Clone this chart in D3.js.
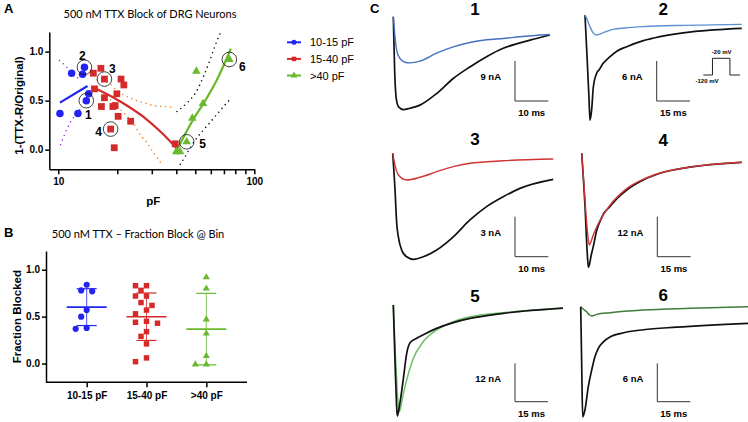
<!DOCTYPE html>
<html>
<head>
<meta charset="utf-8">
<script src="https://cdn.jsdelivr.net/npm/d3@7"></script>
<style>
body { margin: 0; background: #fff; }
text { font-family: "Liberation Sans", Arial, sans-serif; fill: #000; }
.title { font-family: Lato, "Open Sans", sans-serif; font-size: 11px; }
.tick text { font-weight: bold; font-size: 10px; font-family: "Liberation Sans", Arial, sans-serif; }
.axis path, .axis line { stroke: #000; stroke-width: 1.5; }
.axis-label { font-weight: bold; font-size: 11.5px; }
.letter { font-weight: bold; font-size: 13px; }
.legend-text { font-size: 11px; }
.num { font-weight: bold; font-size: 12px; }
.trace-num { font-weight: bold; font-size: 17px; }
.bar-text { font-weight: bold; font-size: 9.5px; }
.proto-text { font-weight: bold; font-size: 6px; }
</style>
</head>
<body>
<script>
// ---------- Panel A: fraction blocked vs capacitance (pF, fraction) ----------
var smallCells = [[10.2, 0.37], [11.7, 0.78], [12.6, 0.37], [13.3, 0.77], [13.6, 0.84], [13.9, 0.50], [14.3, 0.57]];
var midCells = [[15.1, 0.78], [15.3, 0.62], [16.5, 0.83], [16.6, 0.44], [17.2, 0.72], [17.2, 0.53], [18.5, 0.21],
    [19.0, 0.44], [19.3, 0.02], [19.5, 0.45], [19.9, 0.57], [20.2, 0.34], [20.9, 0.72], [21.6, 0.66], [23.4, 0.29], [39.5, 0.06]];
var largeCells = [[40.0, -0.02], [41.8, -0.02], [45.2, 0.08], [48.3, 0.32], [50.6, 0.80], [54.7, 0.47], [74.6, 0.92]];

// fitted lines
var smallFit = [[10.2, 0.48], [14.1, 0.65]];
var midFit = [[15.3, 0.63], [18.8, 0.54], [22.8, 0.44], [27.8, 0.32], [33.8, 0.17], [40.3, 0.01]];
var largeFit = [[40.3, 0.0], [49.9, 0.34], [55.0, 0.47], [64.4, 0.71], [75.9, 1.03]];

// confidence bands (dotted)
var smallUpper = [[10.15, 0.91], [10.7, 0.87], [11.3, 0.82], [12.0, 0.77], [12.9, 0.71]];
var smallLower = [[10.27, 0.05], [10.6, 0.12], [10.9, 0.18], [11.2, 0.23], [11.6, 0.29], [12.1, 0.34], [12.9, 0.41]];
var midUpper = [[15.8, 0.71], [18.1, 0.68], [19.5, 0.62], [21.6, 0.56], [24.3, 0.51], [27.2, 0.48], [30.6, 0.45], [34.4, 0.44], [38.7, 0.43]];
var midLower = [[17.0, 0.58], [18.5, 0.51], [20.3, 0.43], [22.4, 0.34], [24.3, 0.26], [26.2, 0.15], [28.4, 0.07], [30.6, -0.03], [33.8, -0.15]];
var largeUpper = [[40.3, 0.39], [45.3, 0.475], [47.1, 0.51], [50.9, 0.60], [55.0, 0.745], [59.6, 0.92], [63.1, 1.06], [67.5, 1.2]];
var largeLower = [[41.9, -0.15], [44.4, -0.07], [47.1, 0.02], [50.9, 0.12], [55.0, 0.2], [59.6, 0.28], [67.0, 0.4], [74.8, 0.51]];

// circled example cells: label, point, label offset
var examples = [
    {n: "1", pt: [13.9, 0.50], dx: 2, dy: 14},
    {n: "2", pt: [13.6, 0.84], dx: -2, dy: -11},
    {n: "3", pt: [17.2, 0.72], dx: 8, dy: -10},
    {n: "4", pt: [18.5, 0.21], dx: -12, dy: 3},
    {n: "5", pt: [45.2, 0.08], dx: 16, dy: 2},
    {n: "6", pt: [74.6, 0.92], dx: 13, dy: 8}
];

var groups = ["10-15 pF", "15-40 pF", ">40 pF"];
var groupColors = ["#2323f2", "#d42a2a", "#6ab82e"];
var xTicksA = [10, 20, 30, 40, 50, 60, 70, 80, 90, 100];

// ---------- Panel B: fraction blocked per bin ----------
var blockSmall = [0.84, 0.78, 0.77, 0.57, 0.50, 0.38, 0.37];
var blockMid = [0.83, 0.83, 0.78, 0.72, 0.72, 0.65, 0.62, 0.57, 0.53, 0.45, 0.44, 0.43, 0.34, 0.29, 0.21, 0.06, 0.02];
var blockLarge = [0.92, 0.80, 0.47, 0.32, 0.08, -0.01, -0.01];

// ---------- Panel C: current traces [ms, nA] ----------
var trace1Control = [[0, 0], [0.4, -12], [0.9, -18.5], [1.6, -20.3], [3, -20.9], [5, -20.6], [8, -19.9], [13, -17.3], [18, -13.9], [23, -11.3], [28, -9.0], [33, -7.1], [38, -5.9], [43, -4.9], [47, -4.1]];
var trace1TTX = [[0, 0], [1, -7.5], [2, -9.4], [3.3, -10.2], [5, -10.4], [8, -10.0], [13, -8.2], [18, -6.8], [23, -5.8], [28, -5.2], [33, -4.9], [38, -4.5], [47, -4.0]];
var trace2Control = [[0, 0], [1.0, -6.8], [1.8, -12.5], [2.25, -15.8], [3.0, -14.2], [3.75, -10.8], [5.3, -8.7], [6.4, -8.2], [8.2, -7.25], [11.3, -6.25], [14.5, -5.4], [18.8, -4.75], [26.3, -3.85], [33.8, -3.25], [48.8, -2.5], [70.6, -2.0]];
var trace2TTX = [[0, 0], [1.0, -0.7], [2.25, -1.75], [3.5, -2.6], [5.25, -3.0], [8.2, -2.65], [12.7, -2.15], [18, -1.95], [26.3, -1.75], [45, -1.55], [70.6, -1.4]];
var trace3Control = [[0, 0], [0.7, -2.75], [1.2, -5.25], [1.7, -6.26], [2.7, -7.26], [4.2, -7.76], [6.2, -7.95], [9.2, -7.76], [13.2, -7.25], [18.2, -6.26], [23.2, -5.0], [28.2, -4.0], [33.2, -3.26], [38.2, -2.63], [48.2, -1.95]];
var trace3TTX = [[0, 0], [0.8, -1.0], [1.7, -1.63], [4.2, -2.0], [8.2, -1.8], [13.2, -1.38], [18.2, -1.0], [23.2, -0.75], [33.2, -0.56], [48.2, -0.43]];
var trace4Control = [[0, 0], [1.5, -16], [2.5, -30], [3.0, -34.2], [3.6, -33], [4.3, -30.5], [5.2, -28], [6.8, -23], [8.2, -20.5], [10, -18], [12.7, -16], [16, -13.5], [20.3, -11], [27.7, -8], [35.3, -6], [50.3, -4], [72.1, -2.7]];
var trace4TTX = [[0, 0], [1.2, -11], [2.25, -21], [2.9, -25.5], [3.4, -27.5], [4.2, -26.5], [5.2, -24.5], [6.5, -22.5], [8.2, -20.2], [12.7, -15.6], [20.3, -10.6], [27.7, -7.8], [35.3, -5.9], [50.3, -4.0], [72.1, -2.7]];
var trace5Control = [[0, 0], [0.8, -18], [1.4, -30], [1.8, -34.7], [2.3, -33.5], [3.0, -30.7], [4.5, -23.4], [6.1, -15.1], [7.6, -11.8], [10.6, -10.4], [15, -8.8], [19.7, -7.3], [27.3, -5.5], [34.9, -4.2], [50, -2.6], [77.1, -1.0]];
var trace5TTX = [[0, 0], [1.0, -16], [2.0, -29], [2.7, -33.3], [3.5, -31.5], [4.5, -28], [6.1, -23.4], [9.1, -16.7], [13.6, -11.5], [19.7, -7.8], [27.3, -5.2], [34.9, -3.7], [50, -2.4], [77.1, -1.0]];
var trace6Control = [[0, 0], [0.45, -9], [0.9, -17.2], [1.95, -16.1], [3.45, -12.5], [5.0, -9.9], [6.5, -7.8], [8.0, -6.5], [10.3, -5.5], [13.5, -4.7], [17.9, -4.2], [28.5, -3.6], [43.6, -3.2], [76.2, -2.6]];
var trace6TTX = [[0, 0], [1.2, -0.4], [2.7, -0.8], [4.0, -1.3], [5.0, -1.45], [7.3, -1.2], [13.3, -0.94], [28.5, -0.52], [50, -0.25], [76.2, 0]];

// voltage protocol inset [ms, mV]
var protocol = [[0, -120], [10, -120], [10, -20], [29, -20], [29, -120], [40, -120]];

var W = 748, H = 422;
var svg = d3.select("body").append("svg")
    .attr("width", W)
    .attr("height", H);

// ================= Panel A =================
var xA = d3.scaleLog().domain([9, 100]).range([49.3, 254.3]);
var yA = d3.scaleLinear().domain([-0.2, 1.2]).range([169.3, 32]);

var gA = svg.append("g");

gA.append("text").attr("class", "letter").attr("x", 4).attr("y", 13).text("A");
gA.append("text").attr("class", "title").attr("x", 150).attr("y", 18)
    .attr("text-anchor", "middle").text("500 nM TTX Block of DRG Neurons");

gA.append("g").attr("class", "axis")
    .attr("transform", "translate(" + xA.range()[0] + ",0)")
    .call(d3.axisLeft(yA).tickValues([0, 0.5, 1]).tickFormat(d3.format(".1f")).tickSize(4).tickSizeOuter(0))
    .call(function(g) { g.selectAll(".tick text").attr("x", -6); });

gA.append("g").attr("class", "axis")
    .attr("transform", "translate(0," + yA.range()[0] + ")")
    .call(d3.axisBottom(xA).tickValues(xTicksA)
        .tickFormat(function(d) { return (d === 10 || d === 100) ? d : ""; })
        .tickSize(5).tickSizeOuter(0))
    .call(function(g) { g.selectAll(".tick text").attr("y", 9); });

gA.append("text").attr("class", "axis-label")
    .attr("x", xA(Math.sqrt(10 * 100)) - 3).attr("y", 205)
    .attr("text-anchor", "middle").text("pF");

gA.append("text").attr("class", "axis-label")
    .attr("transform", "rotate(-90)")
    .attr("x", -(yA(0.45)))
    .attr("y", 23)
    .attr("text-anchor", "middle")
    .text("1-(TTX-R/Original)");

var lineA = d3.line()
    .x(function(d) { return xA(d[0]); })
    .y(function(d) { return yA(d[1]); })
    .curve(d3.curveMonotoneX);

var bands = [
    {data: smallUpper, color: "#9b34d8"}, {data: smallLower, color: "#9b34d8"},
    {data: midUpper, color: "#e8842c"}, {data: midLower, color: "#e8842c"},
    {data: largeUpper, color: "#111"}, {data: largeLower, color: "#111"}
];
gA.selectAll(".band").data(bands).enter().append("path")
    .attr("class", "band")
    .attr("d", function(d) { return lineA(d.data); })
    .attr("fill", "none")
    .attr("stroke", function(d) { return d.color; })
    .attr("stroke-width", 1.6)
    .attr("stroke-linecap", "round")
    .attr("stroke-dasharray", "0,5");

var fits = [smallFit, midFit, largeFit];
gA.selectAll(".fit").data(fits).enter().append("path")
    .attr("class", "fit")
    .attr("d", lineA)
    .attr("fill", "none")
    .attr("stroke", function(d, i) { return groupColors[i]; })
    .attr("stroke-width", 2.2);

var symbolsA = [d3.symbolCircle, d3.symbolSquare, d3.symbolTriangle];
var sizesA = [44, 46, 32];
[smallCells, midCells, largeCells].forEach(function(cells, i) {
    gA.append("g").selectAll("path").data(cells).enter().append("path")
        .attr("d", d3.symbol(symbolsA[i], sizesA[i]))
        .attr("transform", function(d) { return "translate(" + xA(d[0]) + "," + yA(d[1]) + ")"; })
        .attr("fill", groupColors[i]);
});

var ex = gA.selectAll(".example").data(examples).enter().append("g")
    .attr("class", "example")
    .attr("transform", function(d) { return "translate(" + xA(d.pt[0]) + "," + yA(d.pt[1]) + ")"; });
ex.append("circle").attr("r", 7.3).attr("fill", "none").attr("stroke", "#111").attr("stroke-width", 0.8);
ex.append("text").attr("class", "num")
    .attr("x", function(d) { return d.dx; })
    .attr("y", function(d) { return d.dy; })
    .attr("text-anchor", "middle")
    .attr("dominant-baseline", "central")
    .text(function(d) { return d.n; });

// legend
var legend = gA.selectAll(".legend").data(groups).enter().append("g")
    .attr("class", "legend")
    .attr("transform", function(d, i) { return "translate(287," + (42.3 + i * 16.6) + ")"; });
legend.append("line").attr("x1", 0).attr("x2", 14)
    .attr("stroke", function(d, i) { return groupColors[i]; }).attr("stroke-width", 2);
legend.append("path")
    .attr("d", function(d, i) { return d3.symbol(symbolsA[i], 20)(); })
    .attr("transform", "translate(7,0)")
    .attr("fill", function(d, i) { return groupColors[i]; });
legend.append("text").attr("class", "legend-text")
    .attr("x", 23).attr("y", 4).text(function(d) { return d; });

// ================= Panel B =================
var xB = d3.scalePoint().domain(groups).range([46, 247]).padding(0.68);
var yB = d3.scaleLinear().domain([-0.2, 1.2]).range([382.3, 251]);
var gB = svg.append("g");

gB.append("text").attr("class", "letter").attr("x", 4).attr("y", 237).text("B");
gB.append("text").attr("class", "title").attr("x", 138).attr("y", 238)
    .attr("text-anchor", "middle").text("500 nM TTX \u2013 Fraction Block @ Bin");

gB.append("g").attr("class", "axis")
    .attr("transform", "translate(46,0)")
    .call(d3.axisLeft(yB).tickValues([0, 0.5, 1]).tickFormat(d3.format(".1f")).tickSize(4).tickSizeOuter(0))
    .call(function(g) { g.selectAll(".tick text").attr("x", -6); });

gB.append("g").attr("class", "axis")
    .attr("transform", "translate(0," + yB.range()[0] + ")")
    .call(d3.axisBottom(xB).tickSize(5).tickSizeOuter(0))
    .call(function(g) {
        g.select(".domain").attr("d", "M46,0H247");
        g.selectAll(".tick text").attr("y", 10);
    });

gB.append("text").attr("class", "axis-label")
    .attr("transform", "rotate(-90)")
    .attr("x", -yB(0.5)).attr("y", 21)
    .attr("text-anchor", "middle")
    .text("Fraction Blocked");

// simple swarm layout: place each value at the first free slot around the centre
function swarm(values, step, minDist) {
    var placed = [];
    values.slice().sort(function(a, b) { return b - a; }).forEach(function(v) {
        var py = yB(v);
        for (var k = 0; k < 20; k++) {
            var off = (k === 0) ? 0 : (k % 2 ? -1 : 1) * Math.ceil(k / 2) * step;
            var clash = placed.some(function(p) {
                var dx = p.off - off, dy = p.py - py;
                return dx * dx + dy * dy < minDist * minDist;
            });
            if (!clash) { placed.push({v: v, py: py, off: off}); break; }
        }
    });
    return placed;
}

var bins = [blockSmall, blockMid, blockLarge];
var sizesB = [30, 30, 22];
bins.forEach(function(vals, i) {
    var cx = xB(groups[i]);
    var m = d3.mean(vals), sd = d3.deviation(vals);
    var g = gB.append("g").attr("stroke", groupColors[i]).attr("stroke-width", 1.2);
    g.append("line").attr("x1", cx).attr("x2", cx).attr("y1", yB(m + sd)).attr("y2", yB(m - sd)).attr("stroke-width", 0.8);
    g.append("line").attr("x1", cx - 10).attr("x2", cx + 10).attr("y1", yB(m + sd)).attr("y2", yB(m + sd));
    g.append("line").attr("x1", cx - 10).attr("x2", cx + 10).attr("y1", yB(m - sd)).attr("y2", yB(m - sd));
    g.append("line").attr("x1", cx - 20).attr("x2", cx + 20).attr("y1", yB(m)).attr("y2", yB(m)).attr("stroke-width", 1.6);
    gB.append("g").selectAll("path").data(swarm(vals, 5.5, 7.2)).enter().append("path")
        .attr("d", d3.symbol(symbolsA[i], sizesB[i]))
        .attr("transform", function(d) { return "translate(" + (cx + d.off) + "," + d.py + ")"; })
        .attr("fill", groupColors[i]);
});

// ================= Panel C =================
svg.append("text").attr("class", "letter").attr("x", 370).attr("y", 13).text("C");

var tracePanels = [
    {n: "1", x0: 393.3, y0: 16.7, ms: 10, nA: 9, pxMs: 33.3, pxNA: 40, bar: [515, 61], numPos: [475, 15], color: "#4670c0", control: trace1Control, ttx: trace1TTX, ttxOnTop: true},
    {n: "2", x0: 585, y0: 15, ms: 15, nA: 6, pxMs: 33.3, pxNA: 40, bar: [656.7, 61], numPos: [663.3, 15], color: "#5b8fd4", control: trace2Control, ttx: trace2TTX, ttxOnTop: true},
    {n: "3", x0: 392.7, y0: 153.3, ms: 10, nA: 3, pxMs: 33.3, pxNA: 40, bar: [515, 216.7], numPos: [475, 145], color: "#d03434", control: trace3Control, ttx: trace3TTX, ttxOnTop: true},
    {n: "4", x0: 581.7, y0: 153.3, ms: 15, nA: 12, pxMs: 33.3, pxNA: 40, bar: [657.3, 216.7], numPos: [663.3, 146], color: "#d03434", control: trace4Control, ttx: trace4TTX, ttxOnTop: true},
    {n: "5", x0: 393.3, y0: 305, ms: 15, nA: 12, pxMs: 33, pxNA: 38.4, bar: [515, 363.3], numPos: [475, 302], color: "#6dbf68", control: trace5Control, ttx: trace5TTX, ttxOnTop: false},
    {n: "6", x0: 580.7, y0: 306.7, ms: 15, nA: 6, pxMs: 33, pxNA: 38.4, bar: [657.3, 363.3], numPos: [663.3, 301], color: "#3f7b3a", control: trace6Control, ttx: trace6TTX, ttxOnTop: false}
];

tracePanels.forEach(function(p) {
    var x = d3.scaleLinear().domain([0, p.ms]).range([p.x0, p.x0 + p.pxMs]);
    var y = d3.scaleLinear().domain([0, -p.nA]).range([p.y0, p.y0 + p.pxNA]);
    var line = d3.line()
        .x(function(d) { return x(d[0]); })
        .y(function(d) { return y(d[1]); })
        .curve(d3.curveMonotoneX);
    var g = svg.append("g");

    g.append("text").attr("class", "trace-num")
        .attr("x", p.numPos[0]).attr("y", p.numPos[1])
        .attr("text-anchor", "middle").text(p.n);

    var order = p.ttxOnTop ? [["control", "#111", 1.7], ["ttx", p.color, 1.4]] : [["ttx", p.color, 1.5], ["control", "#111", 1.7]];
    order.forEach(function(o) {
        g.append("path")
            .attr("d", line(p[o[0]]))
            .attr("fill", "none")
            .attr("stroke", o[1])
            .attr("stroke-width", o[2])
            .attr("stroke-linejoin", "round");
    });

    // scale bar
    var bw = x(p.ms) - x(0), bh = y(-p.nA) - y(0);
    var bx = p.bar[0], by = p.bar[1];
    g.append("path")
        .attr("d", "M" + bx + "," + by + "V" + (by + bh) + "H" + (bx + bw))
        .attr("fill", "none").attr("stroke", "#333").attr("stroke-width", 1);
    g.append("text").attr("class", "bar-text")
        .attr("x", bx - 14).attr("y", by + bh / 2 - 1)
        .attr("text-anchor", "end").text(p.nA + " nA");
    g.append("text").attr("class", "bar-text")
        .attr("x", bx + bw / 2).attr("y", by + bh + 15)
        .attr("text-anchor", "middle").text(p.ms + " ms");
});

// voltage protocol inset
var xP = d3.scaleLinear().domain([0, 40]).range([703.3, 740]);
var yP = d3.scaleLinear().domain([-120, -20]).range([75, 58.3]);
svg.append("path")
    .attr("d", d3.line().x(function(d) { return xP(d[0]); }).y(function(d) { return yP(d[1]); })(protocol))
    .attr("fill", "none").attr("stroke", "#222").attr("stroke-width", 1);
svg.append("text").attr("class", "proto-text").attr("x", xP(20)).attr("y", yP(-20) - 4)
    .attr("text-anchor", "middle").text("-20 mV");
svg.append("text").attr("class", "proto-text").attr("x", xP(4)).attr("y", yP(-120) + 8)
    .attr("text-anchor", "middle").text("-120 mV");
</script>
</body>
</html>
